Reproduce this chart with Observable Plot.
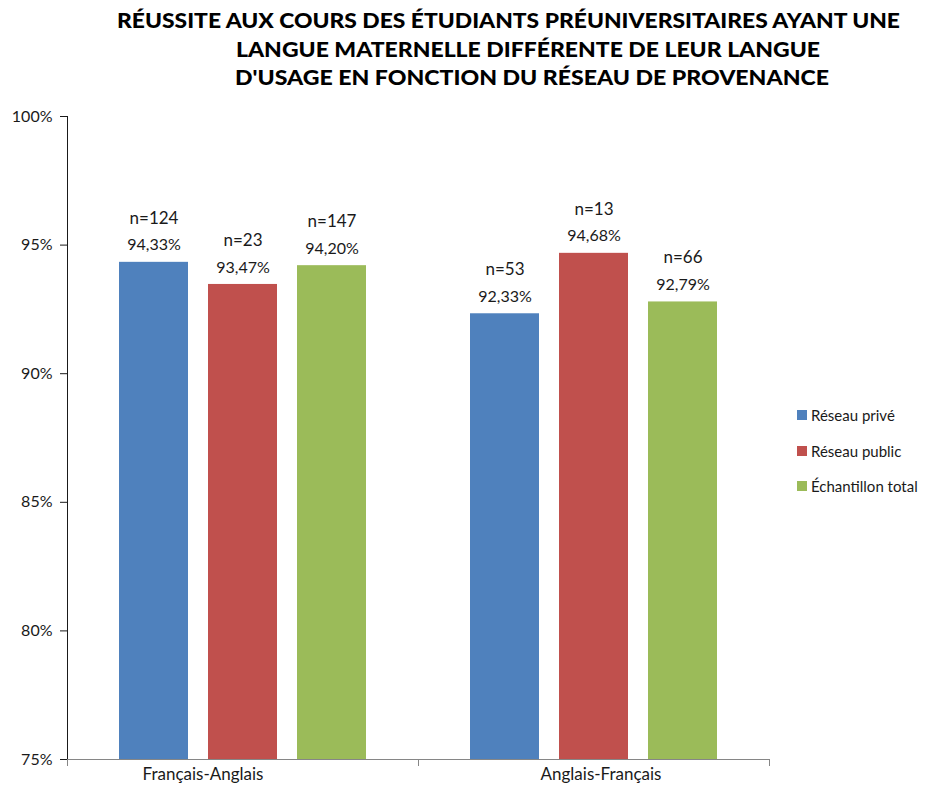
<!DOCTYPE html>
<html>
<head>
<meta charset="utf-8">
<script src="https://cdn.jsdelivr.net/npm/d3@7"></script>
<script src="https://cdn.jsdelivr.net/npm/@observablehq/plot@0.6"></script>
<style>
  html, body { margin: 0; padding: 0; background: #fff; }
  body { width: 938px; height: 791px; position: relative; overflow: hidden; font-family: Lato, "Open Sans", sans-serif; }
  #title { position: absolute; left: 0; top: 0; }
  #chart { position: absolute; left: 0; top: 100px; }
  #legend { position: absolute; left: 797px; top: 405px; font-size: 15px; color: #1a1a1a; }
  #legend .item { display: flex; align-items: center; height: 20px; margin-bottom: 15.5px; white-space: nowrap; }
  #legend .sw { width: 10px; height: 10px; margin-right: 4px; }
</style>
</head>
<body>
<svg id="title" width="938" height="100"></svg>
<div id="chart"></div>
<div id="legend"></div>
<script>
// ---- data ----
const titleLines = [
  "RÉUSSITE AUX COURS DES ÉTUDIANTS PRÉUNIVERSITAIRES AYANT UNE",
  "LANGUE MATERNELLE DIFFÉRENTE DE LEUR LANGUE",
  "D'USAGE EN FONCTION DU RÉSEAU DE PROVENANCE"
];
const groups = ["Français-Anglais", "Anglais-Français"];
const series = ["Réseau privé", "Réseau public", "Échantillon total"];
const valuesFrAn = [94.33, 93.47, 94.20];
const valuesAnFr = [92.33, 94.68, 92.79];
const countsFrAn = [124, 23, 147];
const countsAnFr = [53, 13, 66];
const colors = ["#4F81BD", "#C0504D", "#9BBB59"];
const yTicks = [75, 80, 85, 90, 95, 100];

// ---- title ----
const titleBox = [[117, 900, 28], [236, 820, 57], [235, 829, 85]];
const tsvg = d3.select("#title");
titleLines.forEach((t, i) => {
  const [x1, x2, yb] = titleBox[i];
  tsvg.append("text")
    .attr("x", x1).attr("y", yb)
    .attr("textLength", x2 - x1)
    .attr("lengthAdjust", "spacingAndGlyphs")
    .attr("font-family", "Lato, 'Open Sans', sans-serif")
    .attr("font-weight", 900)
    .attr("font-size", 21)
    .attr("fill", "#000")
    .text(t);
});

// ---- table ----
const rows = [];
[[valuesFrAn, countsFrAn], [valuesAnFr, countsAnFr]].forEach(([vals, ns], gi) => {
  series.forEach((s, si) => rows.push({group: groups[gi], series: s, value: vals[si], n: ns[si]}));
});
const fmtPct = v => v.toFixed(2).replace(".", ",") + "%";

const chart = Plot.plot({
  width: 938,
  height: 691,
  marginTop: 16,
  marginBottom: 32,
  marginLeft: 67,
  marginRight: 169,
  style: {fontFamily: "Lato, 'Open Sans', sans-serif", fontSize: "16px", color: "#1a1a1a", background: "#fff"},
  fx: {domain: groups, padding: 0, axis: null},
  x: {domain: series, paddingInner: 0.229, paddingOuter: 0.575, axis: null},
  y: {domain: [75, 100], ticks: yTicks, tickFormat: d => d + "%", tickSize: 7, tickPadding: 8, label: null, line: true},
  color: {domain: series, range: colors},
  marks: [
    Plot.barY(rows, {fx: "group", x: "series", y1: 75, y2: "value", fill: "series"}),
    Plot.ruleY([75], {stroke: "#868686"}),
    Plot.frame({anchor: "left", stroke: "#868686", insetTop: 643, insetBottom: -6}),
    Plot.frame({anchor: "right", stroke: "#868686", insetTop: 643, insetBottom: -6}),
    Plot.text(rows, {fx: "group", x: "series", y: "value", text: d => fmtPct(d.value), dy: -17, fontSize: 16, fill: "#1a1a1a"}),
    Plot.text(rows, {fx: "group", x: "series", y: "value", text: d => "n=" + d.n, dy: -44, fontSize: 17, fill: "#1a1a1a"}),
    Plot.text([groups[0]], {fx: d => d, text: d => d, frameAnchor: "bottom", dy: 20, dx: -40, fontSize: 17, fill: "#1a1a1a"}),
    Plot.text([groups[1]], {fx: d => d, text: d => d, frameAnchor: "bottom", dy: 20, dx: 7, fontSize: 17, fill: "#1a1a1a"})
  ]
});
document.getElementById("chart").appendChild(chart);

// ---- legend ----
const leg = d3.select("#legend");
series.forEach((s, i) => {
  const it = leg.append("div").attr("class", "item");
  it.append("div").attr("class", "sw").style("background", colors[i]);
  it.append("span").text(s);
});
</script>
</body>
</html>
